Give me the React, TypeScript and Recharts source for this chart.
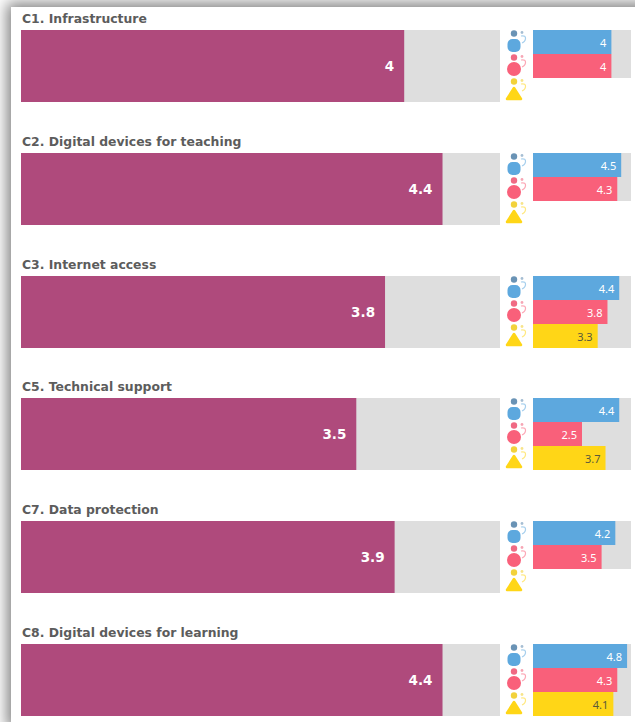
import React from 'react';
import { BarChart, Bar, XAxis, YAxis, LabelList, Cell } from 'recharts';

const TOPICS = [
  'C1. Infrastructure',
  'C2. Digital devices for teaching',
  'C3. Internet access',
  'C5. Technical support',
  'C7. Data protection',
  'C8. Digital devices for learning',
];
const OVERALL = [4, 4.4, 3.8, 3.5, 3.9, 4.4];
const SCHOOL_LEADERS = [4, 4.5, 4.4, 4.4, 4.2, 4.8];
const TEACHERS = [4, 4.3, 3.8, 2.5, 3.5, 4.3];
const STUDENTS = [null, null, 3.3, 3.7, null, 4.1];
const GROUPS = ['School leaders', 'Teachers', 'Students'];

const SCORE_MAX = 5;
const PURPLE = '#AF4A7C';
const TRACK = '#DEDEDE';
const GROUP_COLORS = ['#5DA8DE', '#F9607A', '#FFD617'];
const FONT = '"Noto Sans", sans-serif';
const HEAVY_FONT = '"DejaVu Sans", sans-serif';

// person + small figure pictogram used as the group tick
const GroupTick = ({ x, y, index }: any) => {
  const color = GROUP_COLORS[index];
  const head = index === 0 ? '#6A93B5' : index === 1 ? '#F06A84' : '#F2D23C';
  return (
    <g transform={`translate(${x - 11}, ${y})`}>
      <circle cx={0} cy={-8.5} r={3.2} fill={head} />
      {index === 0 && <rect x={-6.5} y={-3} width={13} height={13} rx={5} fill={color} />}
      {index === 1 && <circle cx={0} cy={3} r={7} fill={color} />}
      {index === 2 && <path d="M0 -2 L7 9 L-7 9 Z" fill={color} stroke={color} strokeWidth={2.5} strokeLinejoin="round" />}
      <circle cx={8} cy={-9.5} r={1.4} fill={head} opacity={0.6} />
      <path d="M7 -6 Q12 -7 11.5 -3 Q11 0 8 1" fill="none" stroke={color} strokeWidth={1.2} opacity={0.55} />
    </g>
  );
};

const GroupLabel = ({ x, y, width, height, value, index }: any) => {
  if (value == null) return null;
  return (
    <text
      x={x + width - 5}
      y={y + height / 2}
      textAnchor="end"
      dominantBaseline="central"
      fontFamily={FONT}
      fontSize={11}
      fill={index === 2 ? '#5A5A3C' : '#FFFFFF'}
    >
      {value}
    </text>
  );
};

function TopicRow({ i }: { i: number }) {
  const overallData = [{ name: TOPICS[i], score: OVERALL[i] }];
  const groupData = GROUPS.map((name, g) => ({
    name,
    score: [SCHOOL_LEADERS, TEACHERS, STUDENTS][g][i],
  }));
  return (
    <div style={{ position: 'absolute', left: 0, top: Math.round(30 + i * 122.8) - 19, width: 635, height: 92 }}>
      <div
        style={{
          position: 'absolute',
          left: 22,
          top: 0,
          fontFamily: HEAVY_FONT,
          fontWeight: 700,
          fontSize: 12.4,
          lineHeight: '16px',
          color: '#5C5C5C',
          whiteSpace: 'nowrap',
        }}
      >
        {TOPICS[i]}
      </div>
      <div style={{ position: 'absolute', left: 21, top: 19 }}>
        <BarChart
          width={479}
          height={72}
          data={overallData}
          layout="vertical"
          margin={{ top: 0, right: 0, bottom: 0, left: 0 }}
          barCategoryGap={0}
        >
          <XAxis type="number" domain={[0, SCORE_MAX]} hide />
          <YAxis type="category" dataKey="name" hide />
          <Bar dataKey="score" fill={PURPLE} background={{ fill: TRACK }} isAnimationActive={false}>
            <LabelList
              dataKey="score"
              position="insideRight"
              offset={10}
              fill="#FFFFFF"
              fontFamily={HEAVY_FONT}
              fontSize={13.5}
              fontWeight={700}
            />
          </Bar>
        </BarChart>
      </div>
      <div style={{ position: 'absolute', left: 503, top: 19 }}>
        <BarChart
          width={128}
          height={72}
          data={groupData}
          layout="vertical"
          margin={{ top: 0, right: 0, bottom: 0, left: 0 }}
          barCategoryGap={0}
        >
          <XAxis type="number" domain={[0, SCORE_MAX]} hide />
          <YAxis
            type="category"
            dataKey="name"
            width={30}
            axisLine={false}
            tickLine={false}
            interval={0}
            tick={<GroupTick />}
          />
          <Bar dataKey="score" background={{ fill: TRACK }} isAnimationActive={false}>
            {groupData.map((d, g) => (
              <Cell key={d.name} fill={GROUP_COLORS[g]} />
            ))}
            <LabelList dataKey="score" content={<GroupLabel />} />
          </Bar>
        </BarChart>
      </div>
    </div>
  );
}

export default function App() {
  return (
    <div style={{ position: 'absolute', left: 0, top: 0, width: 635, height: 722, overflow: 'hidden', background: '#FFFFFF' }}>
      <div
        style={{
          position: 'absolute',
          left: 11,
          top: 7,
          width: 640,
          height: 718,
          background: '#FFFFFF',
          boxShadow: '0 0 14px 4px rgba(0,0,0,0.5)',
        }}
      />
      {TOPICS.map((t, i) => (
        <TopicRow key={t} i={i} />
      ))}
    </div>
  );
}
